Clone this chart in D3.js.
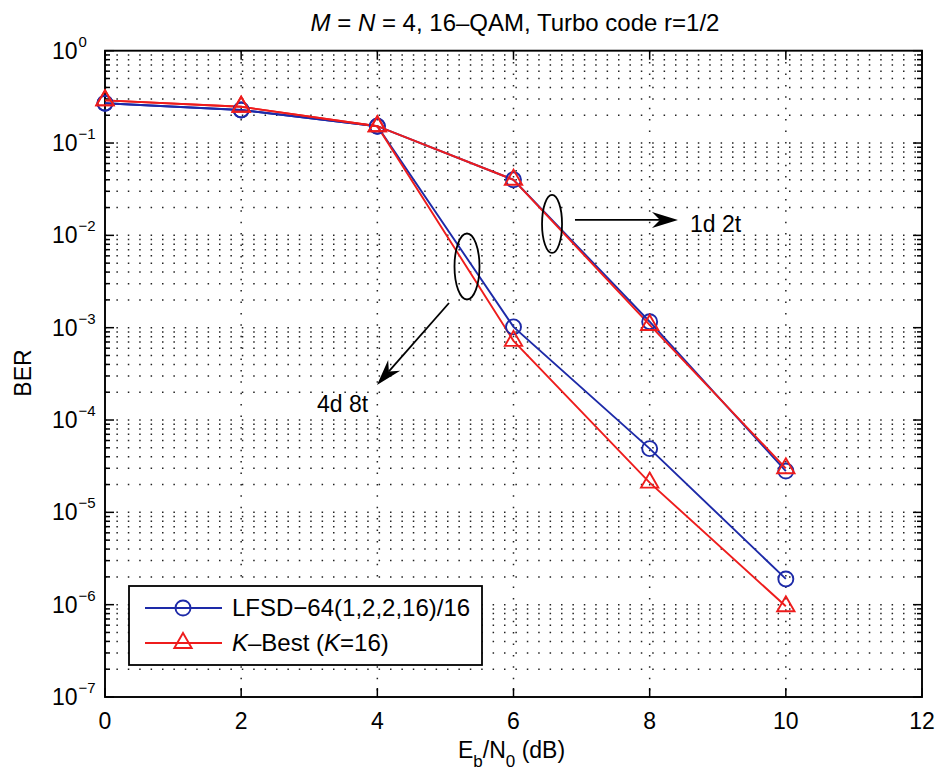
<!DOCTYPE html>
<html>
<head>
<meta charset="utf-8">
<script src="https://cdn.jsdelivr.net/npm/d3@7"></script>
<style>
  html, body { margin: 0; padding: 0; background: #fff; }
  svg { display: block; }
  text { font-family: "Liberation Sans", Arial, Helvetica, sans-serif; fill: #000; }
</style>
</head>
<body>
<svg id="chart" width="938" height="770"></svg>
<script>
// Eb/N0 points (dB)
const snr = [0, 2, 4, 6, 8, 10];

// BER curves: two detectors, two antenna configurations
const lfsd_1d2t   = [0.27, 0.228, 0.152, 0.040, 1.16e-3, 2.8e-5];
const kbest_1d2t  = [0.29, 0.247, 0.152, 0.040, 1.07e-3, 3.0e-5];
const lfsd_4d8t   = [0.27, 0.228, 0.152, 1.02e-3, 4.9e-5, 1.9e-6];
const kbest_4d8t  = [0.29, 0.247, 0.152, 7.2e-4, 2.1e-5, 9.6e-7];

const xTicks = [0, 2, 4, 6, 8, 10, 12];
const yExponents = [0, -1, -2, -3, -4, -5, -6, -7];

const legendLabels = ["LFSD\u221264(1,2,2,16)/16", "K\u2013Best (K=16)"];

const svg = d3.select("#chart");
const plotL = 105, plotR = 922, plotT = 50.7, plotB = 697;

const x = d3.scaleLinear().domain([0, 12]).range([plotL, plotR]);
const y = d3.scaleLog().domain([1e-7, 1]).range([plotB, plotT]);

const blue = "#1d2aa8";
const red = "#ee1c1c";
const lw = 1.9;

// ---- grid ----
const grid = svg.append("g");
const minorVals = [];
for (let e = -7; e < 0; e++) {
  for (let m = 1; m <= 9; m++) minorVals.push(m * Math.pow(10, e));
}
minorVals.push(1);
grid.selectAll("line.h").data(minorVals.filter(v => v > 1e-7 && v < 1)).join("line")
  .attr("x1", plotL).attr("x2", plotR)
  .attr("y1", d => y(d)).attr("y2", d => y(d))
  .attr("stroke", "#222").attr("stroke-width", 1.5)
  .attr("stroke-dasharray", "1.5,9.9");
grid.selectAll("line.v").data(xTicks.filter(t => t > 0 && t < 12)).join("line")
  .attr("x1", d => x(d)).attr("x2", d => x(d))
  .attr("y1", plotT).attr("y2", plotB)
  .attr("stroke", "#222").attr("stroke-width", 1.5)
  .attr("stroke-dasharray", "1.5,9.9");

// ---- axes frame and ticks ----
const ax = svg.append("g");
ax.append("rect").attr("x", plotL).attr("y", plotT).attr("width", plotR - plotL).attr("height", plotB - plotT)
  .attr("fill", "none").attr("stroke", "#000").attr("stroke-width", 1.9);

xTicks.forEach(t => {
  ax.append("line").attr("x1", x(t)).attr("x2", x(t)).attr("y1", plotB).attr("y2", plotB - 9)
    .attr("stroke", "#000").attr("stroke-width", 1.5);
  ax.append("line").attr("x1", x(t)).attr("x2", x(t)).attr("y1", plotT).attr("y2", plotT + 9)
    .attr("stroke", "#000").attr("stroke-width", 1.5);
  ax.append("text").attr("x", x(t)).attr("y", 729).attr("text-anchor", "middle")
    .attr("font-size", 23).text(t);
});

minorVals.forEach(v => {
  const major = Math.abs(Math.log10(v) - Math.round(Math.log10(v))) < 1e-9;
  const len = major ? 9 : 5;
  ax.append("line").attr("x1", plotL).attr("x2", plotL + len).attr("y1", y(v)).attr("y2", y(v))
    .attr("stroke", "#000").attr("stroke-width", 1.5);
  ax.append("line").attr("x1", plotR).attr("x2", plotR - len).attr("y1", y(v)).attr("y2", y(v))
    .attr("stroke", "#000").attr("stroke-width", 1.5);
});

yExponents.forEach(e => {
  const t = ax.append("text").attr("x", 52).attr("y", y(Math.pow(10, e)) + 8)
    .attr("font-size", 23);
  t.append("tspan").text("10");
  t.append("tspan").attr("dx", 1).attr("dy", -12).attr("font-size", 15).text(e === 0 ? "0" : "\u2212" + (-e));
});

// ---- title and axis labels ----
const title = svg.append("text").attr("x", 515).attr("y", 31).attr("text-anchor", "middle").attr("font-size", 24);
title.append("tspan").attr("font-style", "italic").text("M");
title.append("tspan").text(" = ");
title.append("tspan").attr("font-style", "italic").text("N");
title.append("tspan").text(" = 4, 16\u2013QAM, Turbo code r=1/2");

const xl = svg.append("text").attr("x", 458).attr("y", 758).attr("font-size", 23);
xl.append("tspan").text("E");
xl.append("tspan").attr("dy", 9).attr("font-size", 17).text("b");
xl.append("tspan").attr("dy", -9).text("/N");
xl.append("tspan").attr("dy", 9).attr("font-size", 17).text("0");
xl.append("tspan").attr("dy", -9).text(" (dB)");

svg.append("text").attr("transform", "translate(31,373) rotate(-90)")
  .attr("text-anchor", "middle").attr("font-size", 23).text("BER");

// ---- curves ----
const line = d3.line().x((d, i) => x(snr[i])).y(d => y(d));
const plot = svg.append("g");

function circles(data) {
  plot.selectAll(null).data(data).join("circle")
    .attr("cx", (d, i) => x(snr[i])).attr("cy", d => y(d)).attr("r", 7.5)
    .attr("fill", "none").attr("stroke", blue).attr("stroke-width", lw);
}
const tri = d3.symbol().type(d3.symbolTriangle).size(130);
function triangles(data) {
  plot.selectAll(null).data(data).join("path")
    .attr("d", tri)
    .attr("transform", (d, i) => `translate(${x(snr[i])},${y(d)})`)
    .attr("fill", "none").attr("stroke", red).attr("stroke-width", lw);
}

[lfsd_4d8t, lfsd_1d2t].forEach(s => {
  plot.append("path").datum(s).attr("d", line).attr("fill", "none").attr("stroke", blue).attr("stroke-width", lw);
});
[kbest_4d8t, kbest_1d2t].forEach(s => {
  plot.append("path").datum(s).attr("d", line).attr("fill", "none").attr("stroke", red).attr("stroke-width", lw);
});
circles(lfsd_4d8t); circles(lfsd_1d2t);
triangles(kbest_4d8t); triangles(kbest_1d2t);

// ---- annotations ----
const ann = svg.append("g");
const ellipses = [
  { cx: 5.317, cy: 4.6e-3, rx: 12.5, ry: 33 },
  { cx: 6.566, cy: 1.33e-2, rx: 10, ry: 29 }
];
ann.selectAll("ellipse").data(ellipses).join("ellipse")
  .attr("cx", d => x(d.cx)).attr("cy", d => y(d.cy)).attr("rx", d => d.rx).attr("ry", d => d.ry)
  .attr("fill", "none").attr("stroke", "#000").attr("stroke-width", 1.8);

const arrows = [
  { x1: 6.903, y1: 1.47e-2, x2: 8.416, y2: 1.47e-2 },
  { x1: 5.053, y1: 1.85e-3, x2: 3.995, y2: 2.4e-4 }
];
arrows.forEach(a => {
  const X1 = x(a.x1), Y1 = y(a.y1), X2 = x(a.x2), Y2 = y(a.y2);
  const ang = Math.atan2(Y2 - Y1, X2 - X1);
  const L = 26, W = 8, notch = 8;
  ann.append("line").attr("x1", X1).attr("y1", Y1)
    .attr("x2", X2 - Math.cos(ang) * (L - notch)).attr("y2", Y2 - Math.sin(ang) * (L - notch))
    .attr("stroke", "#000").attr("stroke-width", 1.8);
  const pts = [[0, 0], [-L, -W], [-L + notch, 0], [-L, W]];
  ann.append("path")
    .attr("d", "M" + pts.map(p => p.join(",")).join("L") + "Z")
    .attr("transform", `translate(${X2},${Y2}) rotate(${ang * 180 / Math.PI})`)
    .attr("fill", "#000");
});

const notes = [
  { x: 8.593, y: 1.09e-2, t: "1d 2t" },
  { x: 3.114, y: 1.22e-4, t: "4d 8t" }
];
ann.selectAll("text").data(notes).join("text")
  .attr("x", d => x(d.x)).attr("y", d => y(d.y)).attr("font-size", 23).text(d => d.t);

// ---- legend ----
const lg = svg.append("g");
lg.append("rect").attr("x", 129).attr("y", 586).attr("width", 353).attr("height", 79)
  .attr("fill", "#fff").attr("stroke", "#000").attr("stroke-width", 1.8);
const rows = [608, 643];
lg.append("line").attr("x1", 145).attr("x2", 222).attr("y1", rows[0]).attr("y2", rows[0]).attr("stroke", blue).attr("stroke-width", lw);
lg.append("circle").attr("cx", 183).attr("cy", rows[0]).attr("r", 7.5).attr("fill", "none").attr("stroke", blue).attr("stroke-width", lw);
lg.append("line").attr("x1", 145).attr("x2", 222).attr("y1", rows[1]).attr("y2", rows[1]).attr("stroke", red).attr("stroke-width", lw);
lg.append("path").attr("d", tri).attr("transform", `translate(183,${rows[1]})`).attr("fill", "none").attr("stroke", red).attr("stroke-width", lw);

lg.append("text").attr("x", 232).attr("y", rows[0] + 8).attr("font-size", 24).text(legendLabels[0]);
const t2 = lg.append("text").attr("x", 232).attr("y", rows[1] + 8).attr("font-size", 24);
t2.append("tspan").attr("font-style", "italic").text("K");
t2.append("tspan").text("\u2013Best (");
t2.append("tspan").attr("font-style", "italic").text("K");
t2.append("tspan").text("=16)");
</script>
</body>
</html>
